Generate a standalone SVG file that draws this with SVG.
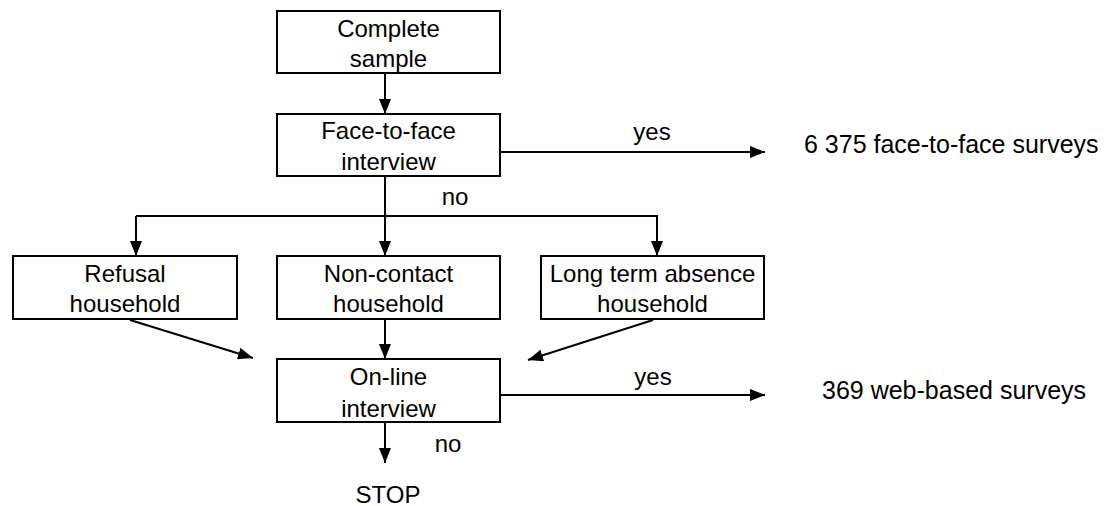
<svg xmlns="http://www.w3.org/2000/svg" width="1104" height="506" viewBox="0 0 1104 506">
<style>
.box{fill:#fff;stroke:#000;stroke-width:2}
.ln{fill:none;stroke:#000;stroke-width:2}
text{font-family:"Liberation Sans",Arial,sans-serif;font-size:24px;fill:#000}
.c{text-anchor:middle}
.r{font-size:25px}
</style>
<defs>
<marker id="ah" markerUnits="userSpaceOnUse" markerWidth="15" markerHeight="12" refX="15" refY="6" orient="auto">
<path d="M0,0 L15,6 L0,12 z" fill="#000"/>
</marker>
</defs>
<rect width="1104" height="506" fill="#fff"/>
<g id="connectors">
<line class="ln" x1="385" y1="73" x2="385" y2="114" marker-end="url(#ah)"/>
<line class="ln" x1="500" y1="152" x2="765" y2="152" marker-end="url(#ah)"/>
<line class="ln" x1="385" y1="176" x2="385" y2="256" marker-end="url(#ah)"/>
<polyline class="ln" points="136,216 657,216 657,256" marker-end="url(#ah)"/>
<line class="ln" x1="136" y1="216" x2="136" y2="256" marker-end="url(#ah)"/>
<line class="ln" x1="385" y1="319" x2="385" y2="359" marker-end="url(#ah)"/>
<line class="ln" x1="130" y1="320" x2="253" y2="358" marker-end="url(#ah)"/>
<line class="ln" x1="653" y1="320" x2="528" y2="360" marker-end="url(#ah)"/>
<line class="ln" x1="500" y1="395" x2="765" y2="395" marker-end="url(#ah)"/>
<line class="ln" x1="385" y1="422" x2="385" y2="463" marker-end="url(#ah)"/>
<text class="c" x="652" y="140">yes</text>
<text class="c" x="455" y="205">no</text>
<text class="c" x="653" y="385">yes</text>
<text class="c" x="448" y="452">no</text>
</g>
<g id="complete-sample">
<rect class="box" x="277" y="11" width="223" height="62"/>
<text class="c" x="388.5" y="37">Complete</text>
<text class="c" x="388.5" y="67">sample</text>
</g>
<g id="face-to-face">
<rect class="box" x="277" y="114" width="223" height="62"/>
<text class="c" x="388.5" y="139">Face-to-face</text>
<text class="c" x="388.5" y="170">interview</text>
</g>
<g id="face-result">
<text class="r" x="804" y="153">6 375 face-to-face surveys</text>
</g>
<g id="refusal">
<rect class="box" x="13" y="256" width="224" height="63"/>
<text class="c" x="125" y="282">Refusal</text>
<text class="c" x="125" y="312">household</text>
</g>
<g id="non-contact">
<rect class="box" x="277" y="256" width="223" height="63"/>
<text class="c" x="388.5" y="282">Non-contact</text>
<text class="c" x="388.5" y="312">household</text>
</g>
<g id="long-term">
<rect class="box" x="541" y="256" width="223" height="63"/>
<text class="c" x="652.5" y="282">Long term absence</text>
<text class="c" x="652.5" y="312">household</text>
</g>
<g id="online">
<rect class="box" x="277" y="359" width="223" height="63"/>
<text class="c" x="388.5" y="385">On-line</text>
<text class="c" x="388.5" y="417">interview</text>
</g>
<g id="web-result">
<text class="r" x="822" y="399">369 web-based surveys</text>
</g>
<g id="stop">
<text class="c" x="388" y="503">STOP</text>
</g>
</svg>
